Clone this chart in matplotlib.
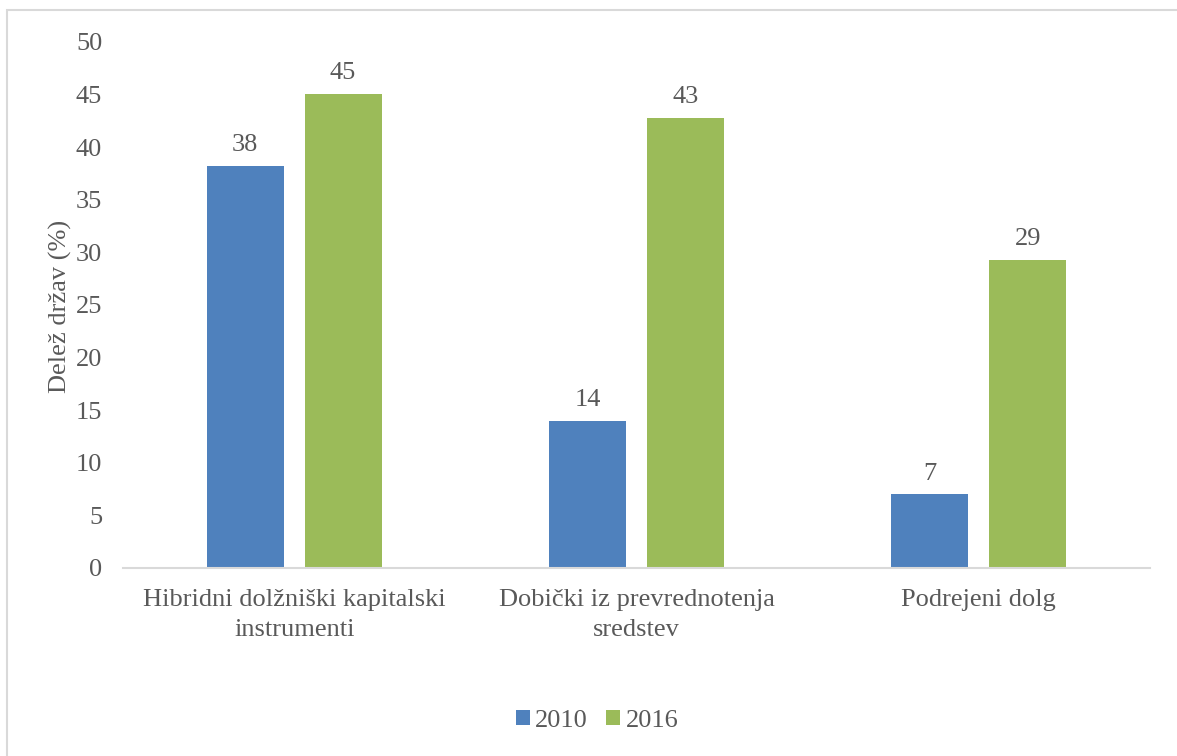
import matplotlib
matplotlib.use("Agg")
import matplotlib.pyplot as plt
from matplotlib.patches import Rectangle
import numpy as np

categories = ["Hibridni dolžniški kapitalski\ninstrumenti",
              "Dobički iz prevrednotenja\nsredstev",
              "Podrejeni dolg"]
series_names = ["2010", "2016"]
values_2010 = [38.2, 14.0, 7.0]
values_2016 = [45.1, 42.8, 29.3]
labels_2010 = ["38", "14", "7"]
labels_2016 = ["45", "43", "29"]
yticks = [0, 5, 10, 15, 20, 25, 30, 35, 40, 45, 50]

plt.rcParams['font.family'] = ['Liberation Serif', 'DejaVu Serif']
txt = "#595959"
blue = "#4F81BD"
green = "#9BBB59"
FS = 19

W, H = 1177, 756
fig = plt.figure(figsize=(W/100, H/100), dpi=100)
fig.patch.set_facecolor("white")

# outer border (top & left visible)
fig.patches.append(Rectangle((6.5/W, -0.05), 1.1, 1 - 9.5/H + 0.05, transform=fig.transFigure,
                             fill=False, edgecolor="#D9D9D9", linewidth=1.5, zorder=0))

ax = fig.add_axes([123/W, 1 - 568/H, (1150-123)/W, (568-42)/H])
x = np.arange(len(categories))
bw = 0.225
off = 0.143
b1 = ax.bar(x - off, values_2010, bw, color=blue, label=series_names[0], zorder=2)
b2 = ax.bar(x + off, values_2016, bw, color=green, label=series_names[1], zorder=2)

for rect, lab in zip(b1, labels_2010):
    ax.annotate(lab, (rect.get_x() + rect.get_width()/2, rect.get_height()),
                xytext=(0, 7), textcoords="offset points", ha="center", va="bottom",
                fontsize=FS, color=txt)
for rect, lab in zip(b2, labels_2016):
    ax.annotate(lab, (rect.get_x() + rect.get_width()/2, rect.get_height()),
                xytext=(0, 7), textcoords="offset points", ha="center", va="bottom",
                fontsize=FS, color=txt)

ax.set_xlim(-0.5, len(categories) - 0.5)
ax.set_ylim(0, 50)
ax.set_yticks(yticks)
ax.set_yticklabels([str(t) for t in yticks], fontsize=FS, color=txt)
ax.set_xticks(x)
ax.set_xticklabels(categories, fontsize=FS, color=txt, linespacing=1.5)
ax.tick_params(axis="both", length=0)
ax.tick_params(axis="y", pad=15)
ax.tick_params(axis="x", pad=15)
for s in ["top", "right", "left"]:
    ax.spines[s].set_visible(False)
ax.spines["bottom"].set_color("#D9D9D9")
ax.spines["bottom"].set_linewidth(1.5)

ax.set_ylabel("Delež držav (%)", fontsize=FS, color=txt)
ax.yaxis.set_label_coords(-0.050, 0.497)

leg = fig.legend(handles=[b1, b2], labels=series_names, loc="center",
                 bbox_to_anchor=(597/W, 1 - 721/H), ncol=2, frameon=False,
                 fontsize=FS, handlelength=0.53, handleheight=0.53, handletextpad=0.2,
                 columnspacing=0.7)
for t in leg.get_texts():
    t.set_color(txt)

fig.savefig("out.png", dpi=100, facecolor="white")
